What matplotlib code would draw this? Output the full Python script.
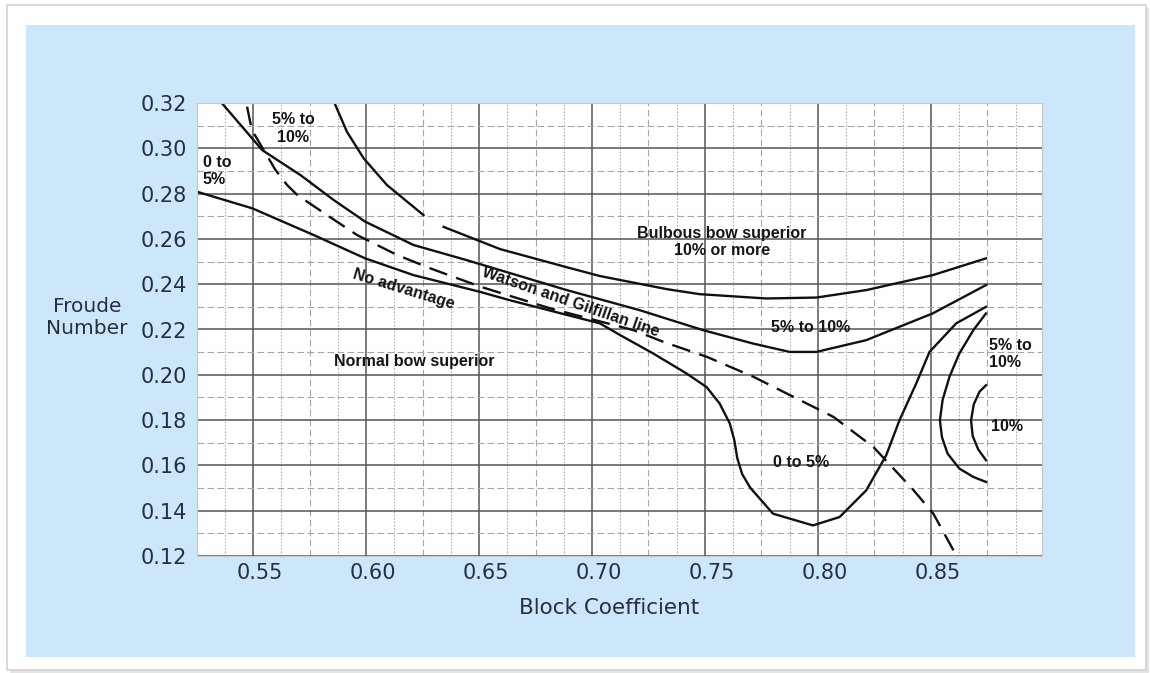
import matplotlib
matplotlib.use('Agg')
import matplotlib.pyplot as plt
from matplotlib.patches import Rectangle
from matplotlib.transforms import ScaledTranslation

# values (block coefficient, Froude number)
x_ticks = [0.55, 0.60, 0.65, 0.70, 0.75, 0.80, 0.85]
x_tick_labels = ['0.55', '0.60', '0.65', '0.70', '0.75', '0.80', '0.85']
y_ticks = [0.12, 0.14, 0.16, 0.18, 0.20, 0.22, 0.24, 0.26, 0.28, 0.30, 0.32]
y_tick_labels = ['0.12', '0.14', '0.16', '0.18', '0.20', '0.22', '0.24', '0.26', '0.28', '0.30', '0.32']
x_mid = [0.525, 0.575, 0.625, 0.675, 0.725, 0.775, 0.825, 0.875]
x_quarter = [0.5375, 0.5625, 0.5875, 0.6125, 0.6375, 0.6625, 0.6875, 0.7125,
             0.7375, 0.7625, 0.7875, 0.8125, 0.8375, 0.8625, 0.8875]
y_mid = [0.13, 0.15, 0.17, 0.19, 0.21, 0.23, 0.25, 0.27, 0.29, 0.31]

# "no advantage" line that turns into the 0-5% bowl
noadv_x = [0.5252, 0.5496, 0.5768, 0.5996, 0.6210, 0.6505, 0.6637, 0.7035, 0.7125,
           0.7271, 0.7418, 0.7507, 0.7565, 0.7610, 0.7630, 0.7643, 0.7665, 0.7700,
           0.7801, 0.7978, 0.8096, 0.8214, 0.8302, 0.8361, 0.8435, 0.8494, 0.8612,
           0.8744]
noadv_y = [0.2808, 0.2735, 0.2617, 0.2514, 0.2440, 0.2366, 0.2329, 0.2227, 0.2175,
           0.2094, 0.2006, 0.1946, 0.1873, 0.1785, 0.1711, 0.1632, 0.1561, 0.1502,
           0.1387, 0.1335, 0.1372, 0.1490, 0.1644, 0.1799, 0.1961, 0.2101, 0.2227,
           0.2300]

# 5% to 10% boundary
b5_x = [0.5361, 0.5540, 0.5709, 0.5856, 0.5996, 0.6210, 0.6446, 0.6888, 0.7212,
        0.7492, 0.7713, 0.7875, 0.7993, 0.8214, 0.8508, 0.8744]
b5_y = [0.3200, 0.2992, 0.2882, 0.2772, 0.2676, 0.2573, 0.2506, 0.2374, 0.2285,
        0.2197, 0.2138, 0.2101, 0.2101, 0.2153, 0.2271, 0.2396]

# 10% or more boundary (two pieces, gap between)
b10a_x = [0.5860, 0.5915, 0.5989, 0.6092, 0.6254]
b10a_y = [0.3200, 0.3073, 0.2956, 0.2838, 0.2705]
b10b_x = [0.6343, 0.6593, 0.6888, 0.7035, 0.7332, 0.7477, 0.7771, 0.7993, 0.8214,
          0.8508, 0.8744]
b10b_y = [0.2653, 0.2555, 0.2475, 0.2436, 0.2378, 0.2356, 0.2337, 0.2341, 0.2374,
          0.2440, 0.2514]

# Watson and Gilfillan line (dashed)
wg_x = [0.5473, 0.5488, 0.5503, 0.5599, 0.5650, 0.5695, 0.5827, 0.5960, 0.6137,
        0.6284, 0.6506, 0.6816, 0.7184, 0.7317, 0.7509, 0.7715, 0.7863, 0.8069,
        0.8246, 0.8423, 0.8511, 0.8600]
wg_y = [0.3184, 0.3110, 0.3066, 0.2904, 0.2838, 0.2794, 0.2705, 0.2617, 0.2529,
        0.2470, 0.2389, 0.2293, 0.2197, 0.2145, 0.2079, 0.1991, 0.1917, 0.1814,
        0.1681, 0.1491, 0.1387, 0.1225]

# right-hand arcs
arc_big_x = [0.8744, 0.8688, 0.8626, 0.8582, 0.8552, 0.8540, 0.8549, 0.8574, 0.8626,
             0.8688, 0.8744]
arc_big_y = [0.2271, 0.2197, 0.2094, 0.1990, 0.1889, 0.1799, 0.1725, 0.1652, 0.1586,
             0.1549, 0.1527]
arc_small_x = [0.8744, 0.8715, 0.8690, 0.8678, 0.8685, 0.8710, 0.8744]
arc_small_y = [0.1954, 0.1925, 0.1870, 0.1799, 0.1730, 0.1670, 0.1623]

W, H = 1150, 673
def fx(px):
    return px / W
def fy(py):
    return 1 - py / H

txt_col = '#27303d'
line_col = '#111111'

fig = plt.figure(figsize=(11.5, 6.73), dpi=100)
fig.patch.set_facecolor('white')

# outer frame (with a soft shadow) and blue panel, kept behind the axes
fig.patches.append(Rectangle((fx(10), fy(673)), fx(1149) - fx(10), fy(8) - fy(673),
                             transform=fig.transFigure, facecolor='#e4e4e4',
                             edgecolor='none', zorder=-4))
fig.patches.append(Rectangle((fx(7), fy(670)), fx(1146) - fx(7), fy(5) - fy(670),
                             transform=fig.transFigure, facecolor='white',
                             edgecolor='#d2d2d2', lw=1.2, zorder=-3))
fig.patches.append(Rectangle((fx(26), fy(657)), fx(1135) - fx(26), fy(25) - fy(657),
                             transform=fig.transFigure, facecolor='#cce6fa',
                             edgecolor='none', zorder=-2))

ax = fig.add_axes([fx(196.7), fy(556), fx(1042) - fx(196.7), fy(103) - fy(556)])
ax.set_zorder(1)
ax.set_facecolor('white')
ax.set_xlim(0.5252, 0.8992)
ax.set_ylim(0.12, 0.32)

ax.set_xticks(x_ticks)
ax.set_xticklabels(x_tick_labels)
ax.set_yticks(y_ticks)
ax.set_yticklabels(y_tick_labels)
ax.set_xticks(x_mid, minor=True)
ax.set_yticks(y_mid, minor=True)
ax.set_axisbelow(True)
ax.grid(which='major', color='#555555', lw=1.1)
ax.grid(which='minor', color='#a6a6a6', lw=0.8, ls=(0, (6, 3)))
for xq in x_quarter:
    ax.axvline(xq, color='#b0b0b0', lw=0.8, ls=(0, (1.5, 1.5)), zorder=0.5)

ax.tick_params(which='both', length=0, labelsize=15, labelcolor=txt_col)
ax.tick_params(axis='x', pad=5)
ax.tick_params(axis='y', pad=7)
off = ScaledTranslation(0.07, 0, fig.dpi_scale_trans)
for lab in ax.get_xticklabels():
    lab.set_transform(lab.get_transform() + off)
for s in ax.spines.values():
    s.set_color('#c8c8c8')
    s.set_linewidth(0.8)

lw = 1.7
ax.plot(noadv_x, noadv_y, color=line_col, lw=lw, solid_joinstyle='round')
ax.plot(b5_x, b5_y, color=line_col, lw=lw, solid_joinstyle='round')
ax.plot(b10a_x, b10a_y, color=line_col, lw=lw, solid_joinstyle='round')
ax.plot(b10b_x, b10b_y, color=line_col, lw=lw, solid_joinstyle='round')
ax.plot(wg_x, wg_y, color=line_col, lw=lw, ls=(0, (8, 4)))
ax.plot(arc_big_x, arc_big_y, color=line_col, lw=lw, solid_joinstyle='round')
ax.plot(arc_small_x, arc_small_y, color=line_col, lw=lw, solid_joinstyle='round')

# region labels
fnt = dict(family='Liberation Sans', fontweight='bold', fontsize=11.5, color='#151515')
ax.text(0.5678, 0.3087, '5% to\n10%', ha='center', va='center', **fnt)
ax.text(0.5276, 0.2900, '0 to\n5%', ha='left', va='center', **fnt)
ax.text(0.7576, 0.2586, 'Bulbous bow superior\n10% or more', ha='center', va='center', **fnt)
ax.text(0.7966, 0.2207, '5% to 10%', ha='center', va='center', **fnt)
ax.text(0.8759, 0.2091, '5% to\n10%', ha='left', va='center', **fnt)
ax.text(0.8768, 0.1770, '10%', ha='left', va='center', **fnt)
ax.text(0.7927, 0.1615, '0 to 5%', ha='center', va='center', **fnt)
ax.text(0.6213, 0.2057, 'Normal bow superior', ha='center', va='center', **fnt)
ax.text(0.6164, 0.2378, 'No advantage', ha='center', va='center', rotation=-17,
        rotation_mode='anchor', **fnt)
ax.text(0.6907, 0.2320, 'Watson and Gilfillan line', ha='center', va='center',
        rotation=-19, rotation_mode='anchor', **fnt)

fig.text(fx(87), fy(317), 'Froude\nNumber', ha='center', va='center',
         multialignment='center', linespacing=1.2, fontsize=14.5, color=txt_col)
fig.text(fx(609), fy(608), 'Block Coefficient', ha='center', va='center',
         fontsize=15.5, color=txt_col)

fig.savefig('out.png', dpi=100)
